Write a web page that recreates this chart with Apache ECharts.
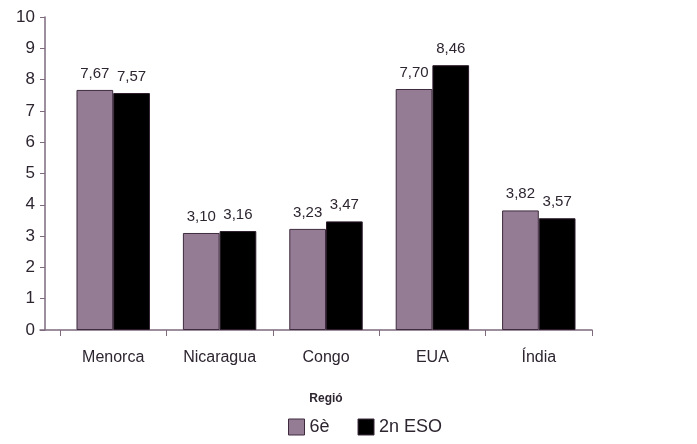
<!DOCTYPE html>
<html>
<head>
<meta charset="utf-8">
<script src="https://cdn.jsdelivr.net/npm/echarts@6/dist/echarts.min.js"></script>
<style>html,body{margin:0;padding:0;background:#fff}#c{width:697px;height:444px}</style>
</head>
<body>
<div id="c"></div>
<script>
const categories = ['Menorca', 'Nicaragua', 'Congo', 'EUA', 'Índia'];
const sixth = [7.67, 3.10, 3.23, 7.70, 3.82];
const second = [7.57, 3.16, 3.47, 8.46, 3.57];
const seriesNames = ['6è', '2n ESO'];
const yTicks = [0, 1, 2, 3, 4, 5, 6, 7, 8, 9, 10];
const xTitle = 'Regió';

const chart = echarts.init(document.getElementById('c'), null, {renderer: 'canvas'});
const axisColor = '#7d6a7d';
const textColor = '#2d2530';
const font = 'Liberation Sans, Arial, sans-serif';
const fmt = p => p.value.toFixed(2).replace('.', ',');
chart.setOption({
  animation: false,
  backgroundColor: '#fff',
  textStyle: {fontFamily: font},
  grid: [
    {left: 60, right: 105, top: 17, bottom: 114},
    {left: 40, right: 105, bottom: 114, height: 0}
  ],
  legend: {
    bottom: 3, left: 283,
    itemWidth: 16, itemHeight: 16, itemGap: 28,
    textStyle: {fontSize: 18, color: textColor, fontFamily: font},
    data: seriesNames.map(n => ({name: n, icon: 'rect', itemStyle: {borderColor: '#3d2b3d', borderWidth: 1}}))
  },
  xAxis: [{
    type: 'category',
    gridIndex: 0,
    data: categories,
    name: xTitle,
    nameLocation: 'middle',
    nameGap: 63,
    nameTextStyle: {fontSize: 12, color: textColor, fontWeight: 'bold'},
    axisLine: {show: false},
    axisTick: {show: true, length: 6, lineStyle: {color: axisColor}},
    axisLabel: {fontSize: 16, color: textColor, margin: 20}
  }, {
    type: 'value',
    gridIndex: 1,
    min: 0, max: 1,
    axisLine: {show: true, lineStyle: {color: axisColor, width: 1.5}},
    axisTick: {show: false},
    axisLabel: {show: false},
    splitLine: {show: false}
  }],
  yAxis: [{
    type: 'value',
    gridIndex: 0,
    min: yTicks[0], max: yTicks[yTicks.length - 1], interval: 1,
    offset: 15,
    axisLine: {show: true, lineStyle: {color: axisColor, width: 1.5}},
    axisTick: {show: true, inside: false, length: 5, lineStyle: {color: axisColor}},
    splitLine: {show: false},
    axisLabel: {fontSize: 17, color: textColor, margin: 10}
  }, {
    type: 'value', gridIndex: 1, show: false
  }],
  series: [
    {
      name: seriesNames[0], type: 'bar', data: sixth,
      barGap: 0, barCategoryGap: '31%',
      itemStyle: {color: '#957c95', borderColor: '#3d2b3d', borderWidth: 1},
      label: {show: true, position: 'top', distance: 9, fontSize: 15, color: textColor, formatter: fmt}
    },
    {
      name: seriesNames[1], type: 'bar', data: second,
      barGap: 0, barCategoryGap: '31%',
      itemStyle: {color: '#000', borderColor: '#2a1a2a', borderWidth: 1},
      label: {show: true, position: 'top', distance: 9, fontSize: 15, color: textColor, formatter: fmt}
    }
  ]
});
</script>
</body>
</html>
